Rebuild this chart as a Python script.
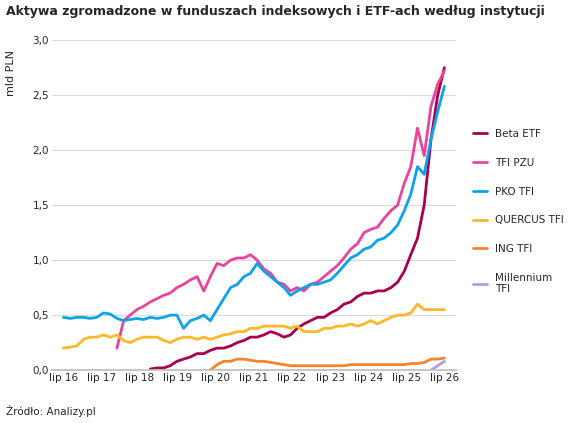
import numpy as np, pandas as pd, matplotlib
matplotlib.use("Agg")
import matplotlib.pyplot as plt, seaborn as sns
from matplotlib.ticker import FuncFormatter

n = np.nan
dates = pd.date_range("2016-07-01", "2026-01-01", freq="2MS")
pko = [.48,.47,.48, .48,.47,.48,.52,.51,.47, .45,.46,.47,.46,.48,.47, .48,.50,.50,.38,.45,.47,
       .50,.45,.55,.65,.75,.78, .85,.88,.97,.90,.85,.80, .75,.68,.72,.75,.78,.78, .80,.82,.88,.95,1.02,1.05,
       1.10,1.12,1.18,1.2,1.25,1.32, 1.45,1.6,1.85,1.78,2.1,2.35, 2.58]
pzu = [n,n,n, n,n,n,n,n,.2, .45,.5,.55,.58,.62,.65, .68,.7,.75,.78,.82,.85, .72,.85,.97,.95,1.0,1.02,
       1.02,1.05,1.0,.92,.88,.8, .78,.72,.75,.72,.78,.8, .85,.9,.95,1.02,1.1,1.15,
       1.25,1.28,1.3,1.38,1.45,1.5, 1.7,1.85,2.2,1.95,2.4,2.6, 2.72]
beta = [n,n,n, n,n,n,n,n,n, n,n,n,n,.01,.02, .02,.04,.08,.1,.12,.15, .15,.18,.2,.2,.22,.25,
        .27,.3,.3,.32,.35,.33, .3,.32,.38,.42,.45,.48, .48,.52,.55,.6,.62,.67,
        .7,.7,.72,.72,.75,.8, .9,1.05,1.2,1.5,2.1,2.5, 2.75]
quercus = [.2,.21,.22, .28,.3,.3,.32,.3,.32, .27,.25,.28,.3,.3,.3, .27,.25,.28,.3,.3,.28, .3,.28,.3,.32,.33,.35,
           .35,.38,.38,.4,.4,.4, .4,.38,.4,.35,.35,.35, .38,.38,.4,.4,.42,.4,
           .42,.45,.42,.45,.48,.5, .5,.52,.6,.55,.55,.55, .55]
ing = [n]*21 + [n,0.0,.05,.08,.08,.1, .1,.09,.08,.08,.07,.06, .05,.04,.04,.04,.04,.04, .04,.04,.04,.04,.05,.05,
       .05,.05,.05,.05,.05,.05, .05,.06,.06,.07,.1,.1, .11]
mill = [n]*55 + [0.0,.04,.08]
names = ["Beta ETF","TFI PZU","PKO TFI","QUERCUS TFI","ING TFI","Millennium\nTFI"]
series = [beta,pzu,pko,quercus,ing,mill]
colors = ["#a8004f","#e8449c","#0ca3ea","#fbb829","#f5852a","#a99cf7"]
tick_labels = [f"lip {y}" for y in range(16,27)]

sns.set_theme(style="white")
fig = plt.figure(figsize=(5.77,4.23), dpi=100)
ax = fig.add_axes([0.09,0.125,0.70,0.78])
for s,nm,c in zip(series,names,colors):
    df = pd.DataFrame({"d":dates,"v":s})
    sns.lineplot(data=df, x="d", y="v", ax=ax, color=c, lw=2, label=nm)
ax.set_ylim(0,3.0); ax.set_yticks(np.arange(0,3.01,0.5))
ax.yaxis.set_major_formatter(FuncFormatter(lambda v,p: f"{v:.1f}".replace(".",",")))
ax.grid(axis="y", color="#d9d9d9", lw=0.8)
for sp in ["top","right","left"]: ax.spines[sp].set_visible(False)
ax.spines["bottom"].set_color("#bfbfbf")
t0, t1 = matplotlib.dates.date2num(dates[0]), matplotlib.dates.date2num(dates[-1])
ax.set_xticks(np.linspace(t0, t1, len(tick_labels))); ax.set_xticklabels(tick_labels)
ax.set_xlim(t0-(t1-t0)*0.03, t1+(t1-t0)*0.03)
ax.tick_params(labelsize=7.5, pad=2, length=0)
ax.set_xlabel(""); ax.set_ylabel("mld PLN", fontsize=8)
ax.yaxis.set_label_coords(-0.09,0.90)
ax.legend(loc="center left", bbox_to_anchor=(1.02,0.48), frameon=False, fontsize=7.5, labelspacing=1.8, handlelength=1.3)
fig.text(0.01,0.965,"Aktywa zgromadzone w funduszach indeksowych i ETF-ach według instytucji", fontsize=9, weight="bold")
fig.text(0.01,0.02,"Źródło: Analizy.pl", fontsize=7.5)
fig.savefig("out.png", dpi=100)
